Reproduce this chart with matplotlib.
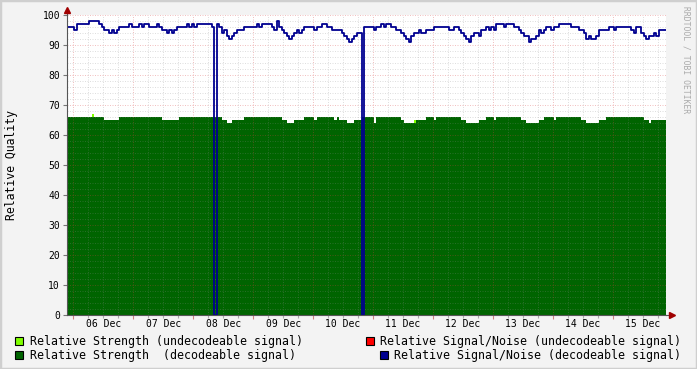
import numpy as np
import matplotlib as mpl
mpl.use('Agg')
import matplotlib.pyplot as plt
from matplotlib.patches import Rectangle

# hourly samples, first one at 05 Dec ~21:24 (hours relative to 06 Dec 00:00)
start_hour = -2.6
day_labels = ['06 Dec', '07 Dec', '08 Dec', '09 Dec', '10 Dec',
              '11 Dec', '12 Dec', '13 Dec', '14 Dec', '15 Dec']

# Relative Strength (decodeable signal)
strength_dec = [
    66, 66, 66, 66, 66, 66, 66, 66, 66, 66, 66, 66, 66, 66, 66, 65, 65, 65, 65, 65, 65, 66, 66, 66,
    66, 66, 66, 66, 66, 66, 66, 66, 66, 66, 66, 66, 66, 66, 65, 65, 65, 65, 65, 65, 65, 66, 66, 66,
    66, 66, 66, 66, 66, 66, 66, 66, 66, 66, 66, 66, 66, 66, 65, 65, 64, 64, 65, 65, 65, 65, 65, 66,
    66, 66, 66, 66, 66, 66, 66, 66, 66, 66, 66, 66, 66, 66, 65, 65, 64, 64, 64, 65, 65, 65, 65, 66,
    66, 66, 66, 65, 66, 66, 66, 66, 66, 66, 66, 65, 66, 65, 65, 65, 64, 64, 64, 65, 65, 65, 66, 66,
    66, 66, 66, 64, 66, 66, 66, 66, 66, 66, 66, 66, 66, 66, 65, 64, 64, 64, 64, 64, 65, 65, 65, 65,
    66, 66, 66, 65, 66, 66, 66, 66, 66, 66, 66, 66, 66, 66, 65, 65, 64, 64, 64, 64, 64, 65, 65, 65,
    66, 66, 66, 65, 66, 66, 66, 66, 66, 66, 66, 66, 66, 66, 65, 65, 64, 64, 64, 64, 64, 65, 65, 66,
    66, 66, 66, 65, 66, 66, 66, 66, 66, 66, 66, 66, 66, 66, 65, 65, 64, 64, 64, 64, 64, 65, 65, 65,
    66, 66, 66, 66, 66, 66, 66, 66, 66, 66, 66, 66, 66, 66, 66, 65, 65, 64, 65, 65, 65, 65, 65, 65,
]

# Relative Strength (undecodeable signal): only a few samples
strength_undec_idx = [10, 139]
strength_undec_val = [67, 65]

# Relative Signal/Noise (decodeable signal)
sn_dec = [
    96, 96, 96, 95, 97, 97, 97, 97, 97, 98, 98, 98, 98, 97, 96, 95, 95, 94, 95, 94, 95, 96, 96, 96,
    96, 97, 96, 96, 96, 97, 96, 97, 97, 96, 96, 96, 97, 96, 95, 95, 94, 95, 94, 95, 96, 96, 96, 96,
    97, 96, 97, 96, 97, 97, 97, 97, 97, 97, 96, 0, 97, 96, 94, 95, 93, 92, 93, 94, 95, 95, 95, 96,
    96, 96, 96, 96, 97, 96, 97, 97, 97, 97, 96, 95, 98, 96, 95, 94, 93, 92, 93, 94, 95, 94, 95, 96,
    96, 96, 96, 95, 96, 96, 97, 97, 96, 96, 95, 95, 95, 95, 94, 93, 92, 91, 92, 93, 94, 94, 0, 96,
    96, 96, 96, 95, 96, 96, 97, 96, 97, 97, 96, 96, 95, 95, 94, 93, 92, 91, 93, 94, 94, 95, 94, 94,
    95, 95, 95, 96, 96, 96, 96, 96, 96, 95, 95, 96, 96, 95, 94, 93, 92, 91, 93, 94, 94, 93, 95, 95,
    96, 95, 96, 95, 97, 97, 97, 96, 97, 97, 97, 96, 96, 95, 94, 93, 93, 91, 92, 92, 93, 95, 94, 95,
    96, 96, 95, 96, 96, 97, 97, 97, 97, 97, 96, 96, 96, 95, 95, 94, 92, 93, 92, 92, 93, 95, 95, 95,
    95, 96, 96, 95, 96, 96, 96, 96, 96, 96, 95, 94, 96, 96, 94, 93, 92, 93, 93, 94, 93, 95, 95, 95,
]

legend_labels = ['Relative Strength (undecodeable signal)',
                 'Relative Strength  (decodeable signal)',
                 'Relative Signal/Noise (undecodeable signal)',
                 'Relative Signal/Noise (decodeable signal)']

c_lime = '#80FF00'
c_green = '#006400'
c_red = '#FF0000'
c_blue = '#000090'
mono = 'DejaVu Sans Mono'

W, H = 697, 369
fig = plt.figure(figsize=(W / 100, H / 100), dpi=100, facecolor='#F3F3F3')

# frame around the image
fig.patches.append(Rectangle((0, 0), 1, 1, transform=fig.transFigure,
                             fill=False, edgecolor='#CFCFCF', lw=2.5))

ax = fig.add_axes([67 / W, 54 / H, 599 / W, 300 / H])
ax.set_facecolor('white')

n = len(sn_dec)
x = start_hour + np.arange(n + 1)
strength = np.append(strength_dec, strength_dec[-1])
sn = np.append(sn_dec, sn_dec[-1])

undec = np.full(n + 1, np.nan)
for i, v in zip(strength_undec_idx, strength_undec_val):
    undec[i] = v
    undec[i + 1] = v
ax.fill_between(x, 0, undec, step='post', color=c_lime, lw=0, zorder=1)
ax.fill_between(x, 0, strength, step='post', color=c_green, lw=0, zorder=2)

ax.set_xlim(start_hour, start_hour + n)
ax.set_ylim(0, 100)

# grid (drawn on top of the area, like rrdtool)
minor_c = (0.55, 0.55, 0.55, 0.28)
major_c = (0.85, 0.25, 0.25, 0.32)
dots = (0, (1, 1.5))
for h in np.arange(0, 240, 6):
    if h % 24:
        ax.axvline(h, color=minor_c, lw=0.72, ls=dots, zorder=3)
for h in np.arange(0, 240, 24):
    ax.axvline(h, color=major_c, lw=0.72, ls=dots, zorder=3)
for v in np.arange(2, 100, 2):
    if v % 10:
        ax.axhline(v, color=minor_c, lw=0.72, ls=dots, zorder=3)
for v in np.arange(10, 101, 10):
    ax.axhline(v, color=major_c, lw=0.72, ls=dots, zorder=3)

ax.step(x, sn, where='post', color=c_blue, lw=1.3, zorder=4)

for s in ['top', 'right']:
    ax.spines[s].set_visible(False)
for s in ['left', 'bottom']:
    ax.spines[s].set_color('#555555')
    ax.spines[s].set_linewidth(0.8)
    ax.spines[s].set_zorder(5)

# extend axes and add the arrow heads
ax.plot([0, 0], [1, 1.02], color='#555555', lw=0.8, transform=ax.transAxes, clip_on=False)
ax.plot([1, 1.01], [0, 0], color='#555555', lw=0.8, transform=ax.transAxes, clip_on=False)
ax.plot([0], [1.017], marker='^', ms=4, color='#A00000', mec='#A00000',
        transform=ax.transAxes, clip_on=False)
ax.plot([1.01], [0], marker='>', ms=4, color='#A00000', mec='#A00000',
        transform=ax.transAxes, clip_on=False)

ax.set_yticks(np.arange(0, 101, 10))
ax.set_yticklabels([str(v) for v in range(0, 101, 10)], fontfamily=mono, fontsize=7)
ax.tick_params(axis='y', length=3, width=0.8, color='#777777', pad=2)
ax.set_xticks(np.arange(0, 240, 24))
ax.set_xticks(np.arange(0, 240, 6), minor=True)
ax.tick_params(axis='x', which='major', length=3, width=0.8, color='#D08080', labelbottom=False)
ax.tick_params(axis='x', which='minor', length=2, width=0.8, color='#AAAAAA')
for k, lab in enumerate(day_labels):
    ax.text(12 + 24 * k, -3, lab, fontfamily=mono, fontsize=7, ha='center', va='center')

fig.text(12 / W, 1 - 165 / H, 'Relative Quality', rotation=90, fontfamily=mono,
         fontsize=8.3, ha='center', va='center')
fig.text(686 / W, 1 - 60 / H, 'RRDTOOL / TOBI OETIKER', rotation=270, fontfamily=mono,
         fontsize=5.8, color='#AAAAAA', ha='center', va='center')

# legend rows
def legend_item(bx, by, tx, color, label):
    fig.patches.append(Rectangle((bx / W, 1 - (by + 4) / H), 8 / W, 8 / H,
                                 transform=fig.transFigure, facecolor=color,
                                 edgecolor='black', lw=0.8))
    fig.text(tx / W, 1 - by / H, label, fontfamily=mono, fontsize=8.4,
             ha='left', va='center')

legend_item(15, 341, 30, c_lime, legend_labels[0])
legend_item(15, 355, 30, c_green, legend_labels[1])
legend_item(366, 341, 380, c_red, legend_labels[2])
legend_item(380, 355, 394, c_blue, legend_labels[3])

plt.savefig('out.png', dpi=100, facecolor=fig.get_facecolor())
plt.close()
